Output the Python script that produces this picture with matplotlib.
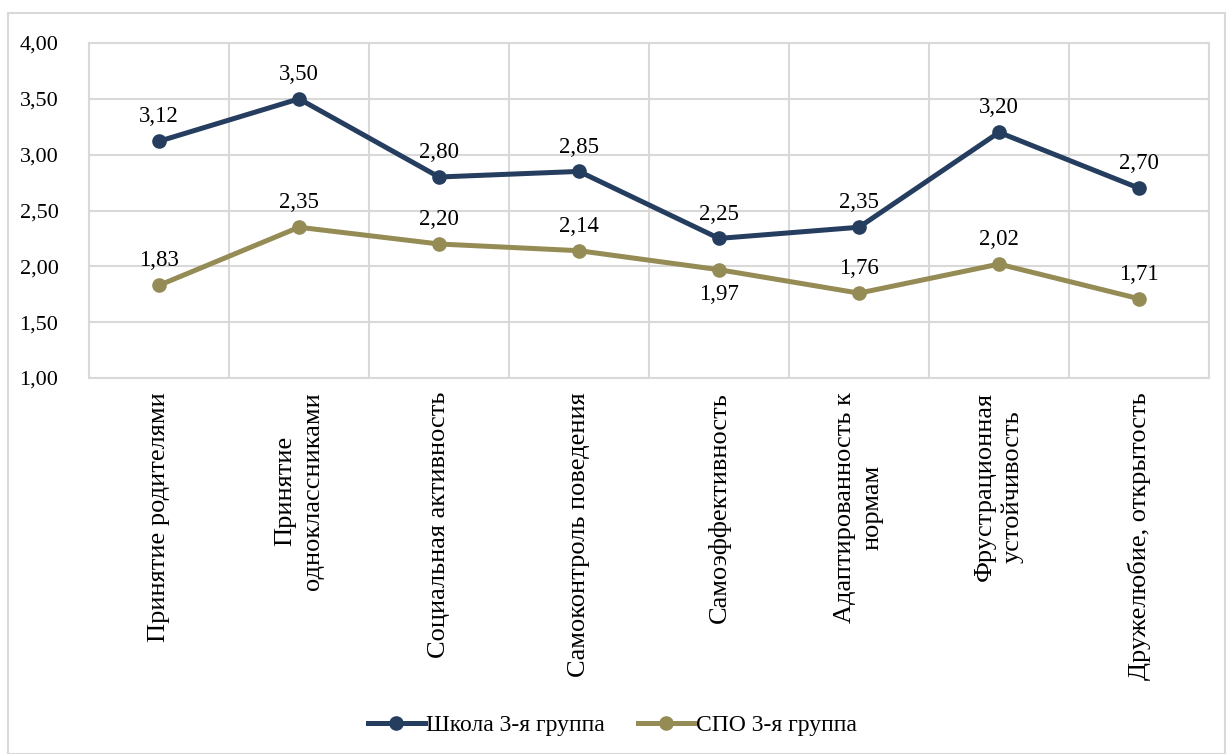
import matplotlib.pyplot as plt
from matplotlib.patches import Rectangle
import numpy as np

plt.rcParams['font.family'] = ['Liberation Serif', 'DejaVu Serif']

categories = ['Принятие родителями', 'Принятие\nодноклассниками', 'Социальная активность',
              'Самоконтроль поведения', 'Самоэффективность', 'Адаптированность к\nнормам',
              'Фрустрационная\nустойчивость', 'Дружелюбие, открытость']
school = [3.12, 3.50, 2.80, 2.85, 2.25, 2.35, 3.20, 2.70]
spo = [1.83, 2.35, 2.20, 2.14, 1.97, 1.76, 2.02, 1.71]
# label position for СПО: 1 above, -1 below
spo_pos = [1, 1, 1, 1, -1, 1, 1, 1]

NAVY = '#253D5F'
OLIVE = '#958B55'
GRID = '#D9D9D9'

fig = plt.figure(figsize=(12.27, 7.54), dpi=100)
fig.patches.append(Rectangle((8/1227, 0), 1217/1227, 1 - 13/754, transform=fig.transFigure,
                             fill=False, edgecolor=GRID, linewidth=1.5))
ax = fig.add_axes([89/1227, 1 - 378/754, 1120/1227, 335/754])

x = np.arange(len(categories))
ax.plot(x, school, '-o', color=NAVY, lw=3.6, ms=9.5, label='Школа 3-я группа', zorder=3)
ax.plot(x, spo, '-o', color=OLIVE, lw=3.6, ms=9.5, label='СПО 3-я группа', zorder=3)

def fmt(v):
    return f'{v:.2f}'.replace('.', ',')

for xi, v in zip(x, school):
    ax.annotate(fmt(v), (xi, v), xytext=(0, 10), textcoords='offset points',
                ha='center', va='bottom', fontsize=16.5)
for xi, v, p in zip(x, spo, spo_pos):
    ax.annotate(fmt(v), (xi, v), xytext=(0, 10 * p), textcoords='offset points',
                ha='center', va='bottom' if p > 0 else 'top', fontsize=16.5)

ax.set_xlim(-0.5, len(categories) - 0.5)
ax.set_ylim(1, 4)
ax.set_yticks(np.arange(1, 4.01, 0.5))
ax.set_yticklabels([fmt(v) for v in np.arange(1, 4.01, 0.5)], fontsize=16)
ax.set_xticks(x)
ax.set_xticklabels(categories, rotation=90, ha='center', va='top', fontsize=19,
                   multialignment='center', linespacing=1.3)
ax.set_xticks(np.arange(-0.5, len(categories), 1), minor=True)
ax.tick_params(axis='both', which='both', length=0)
ax.tick_params(axis='y', pad=22)
ax.tick_params(axis='x', pad=10)
ax.grid(axis='y', color=GRID, lw=1.5)
ax.grid(axis='x', which='minor', color=GRID, lw=1.5)
ax.grid(axis='x', which='major', visible=False)
for s in ax.spines.values():
    s.set_color(GRID)
    s.set_linewidth(1.5)
ax.set_axisbelow(True)

fig.legend(loc='center', bbox_to_anchor=(0.499, 1 - 725/754), ncol=2, frameon=False,
           fontsize=17, handlelength=2.4, handletextpad=0.05, columnspacing=1.4)

fig.savefig('out.png', dpi=100)
